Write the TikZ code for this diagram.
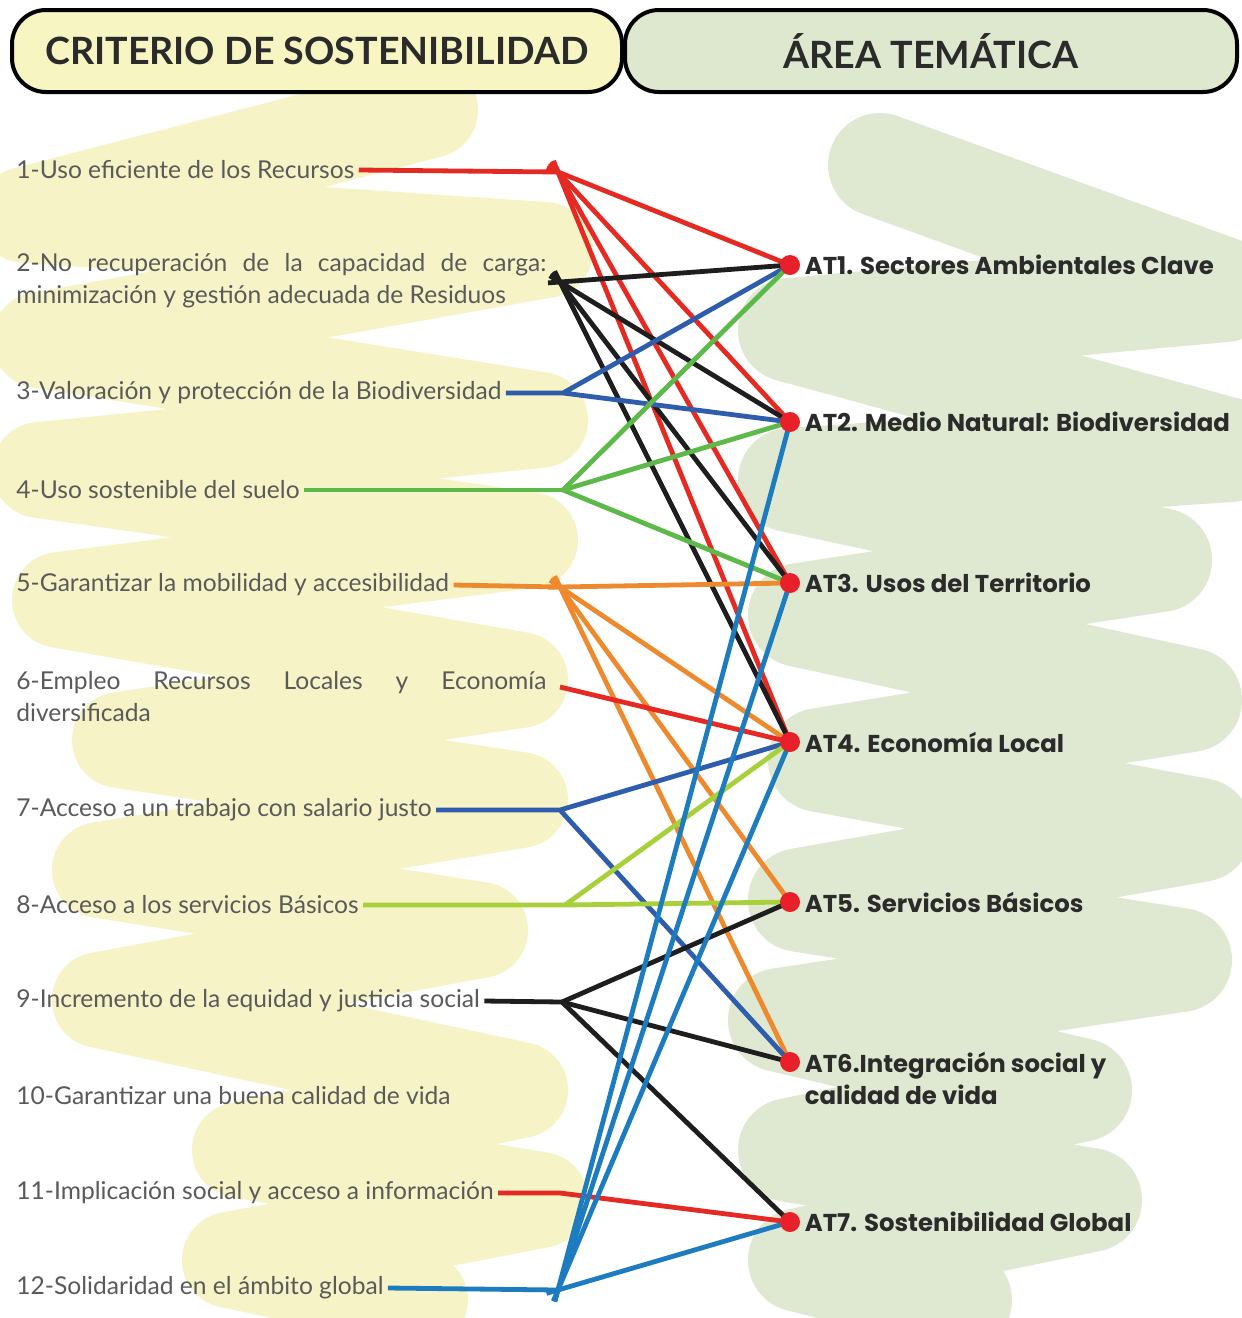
\documentclass[tikz,border=0pt]{standalone}
\usepackage{fontspec}
\setmainfont{Lato}
\newfontfamily\atfont{Poppins}
\usetikzlibrary{positioning}
\definecolor{lred}{HTML}{E42A22}
\definecolor{lblack}{HTML}{1E1E1E}
\definecolor{dblue}{HTML}{2E5DAE}
\definecolor{lblue}{HTML}{1C7CBF}
\definecolor{lgreen}{HTML}{5CB94A}
\definecolor{lorange}{HTML}{EE8A2E}
\definecolor{llime}{HTML}{A8D03A}
\definecolor{dotred}{HTML}{E8202A}
\definecolor{bgyellow}{HTML}{F6F4C6}
\definecolor{bggreen}{HTML}{DFE9D1}
\definecolor{headyellow}{HTML}{F7F5C2}
\definecolor{headgreen}{HTML}{DEE8CF}
\definecolor{critgray}{HTML}{5A5A5A}
\definecolor{atgray}{HTML}{2B2B2B}
\hyphenpenalty=10000

\begin{document}
\begin{tikzpicture}[x=0.5pt,y=-0.5pt,
	crit/.style={anchor=west,inner sep=2pt,text=critgray,font=\fontsize{12.3}{16}\selectfont},
	theme/.style={inner sep=1pt,text=atgray,font=\atfont\bfseries\fontsize{12.2}{16}\selectfont},
	themedot/.style={circle,fill=dotred,inner sep=0pt,minimum size=10pt},
	headbox/.style={draw=black,line width=2pt,rounded corners=17pt,minimum height=41pt,text=atgray,font=\bfseries\fontsize{18.8}{20}\selectfont},
	link/.style={line width=2.4pt},
	tail/.style={shorten <=-6pt},
	scribble/.style={line width=48pt,line cap=round,line join=round}]
	\useasboundingbox (0,0) rectangle (1242,1318);
	\fill[white] (0,0) rectangle (1242,1318);

	\draw[scribble,bgyellow] (430,110) -- (25,215) -- (545,250) -- (40,340) -- (540,420) -- (40,470) -- (530,540) -- (60,600) -- (520,680) -- (120,740) -- (520,800) -- (100,870) -- (480,930) -- (100,1000) -- (520,1090) -- (240,1150) -- (540,1200) -- (230,1260) -- (420,1300);
	\draw[scribble,bggreen,line width=52pt] (880,165) -- (1225,290) -- (790,330) -- (1230,450) -- (790,480) -- (1160,560) -- (800,615) -- (1190,700) -- (820,760) -- (1200,830) -- (800,900) -- (1180,960) -- (780,1020) -- (1080,1090) -- (790,1150) -- (1090,1200) -- (800,1260) -- (960,1300);

	\node[headbox,fill=headyellow,minimum width=305pt] (hcrit) at (317,51) {CRITERIO DE SOSTENIBILIDAD};
	\node[headbox,fill=headgreen,minimum width=306pt] (harea) at (931,51) {ÁREA TEMÁTICA};

	\node[crit] (c1) at (12,170) {1-Uso eficiente de los Recursos};
	\node[crit,text width=265pt,align=justify] (c2) at (12,281) {2-No recuperación de la capacidad de carga:\linebreak minimización y gestión adecuada de Residuos};
	\node[crit] (c3) at (12,393) {3-Valoración y protección de la Biodiversidad};
	\node[crit] (c4) at (12,490) {4-Uso sostenible del suelo};
	\node[crit] (c5) at (12,585) {5-Garantizar la mobilidad y accesibilidad};
	\node[crit,text width=265pt,align=justify] (c6) at (12,697) {6-Empleo Recursos Locales y Economía\linebreak diversificada};
	\node[crit] (c7) at (12,810) {7-Acceso a un trabajo con salario justo};
	\node[crit] (c8) at (12,905) {8-Acceso a los servicios Básicos};
	\node[crit] (c9) at (12,1001) {9-Incremento de la equidad y justicia social};
	\node[crit] (c10) at (12,1096) {10-Garantizar una buena calidad de vida};
	\node[crit] (c11) at (12,1193) {11-Implicación social y acceso a información};
	\node[crit] (c12) at (12,1288) {12-Solidaridad en el ámbito global};

	\coordinate (b1) at (558,172);
	\coordinate (b2) at (560,282);
	\coordinate (b3) at (563,393);
	\coordinate (b4) at (563,490);
	\coordinate (b5) at (560,587);
	\coordinate (b6) at (560,687);
	\coordinate (b7) at (560,810);
	\coordinate (b8) at (565,905);
	\coordinate (b9) at (562,1002);
	\coordinate (b11) at (560,1193);
	\coordinate (b12) at (558,1290);
	\foreach \i/\y in {1/265,2/422,3/583,4/742,5/902,6/1062,7/1222}
		\coordinate (at\i) at (790,\y);

	\draw[link,lred] (c1.east) -- (b1);
	\foreach \t in {1,...,4}
		\draw[link,lred,tail] (b1) -- (at\t);
	\foreach \t in {1,...,4}
		\draw[link,lblack,tail] (b2) -- (at\t);
	\draw[link,dblue] (c3.east) -- (b3) -- (at1) (b3) -- (at2);
	\draw[link,lgreen] (c4.east) -- (b4);
	\foreach \t in {1,2,3}
		\draw[link,lgreen] (b4) -- (at\t);
	\draw[link,lorange] (c5.east) -- (b5);
	\foreach \t in {3,...,6}
		\draw[link,lorange,tail] (b5) -- (at\t);
	\draw[link,lred] (b6) -- (at4);
	\draw[link,dblue] (c7.east) -- (b7) -- (at4) (b7) -- (at6);
	\draw[link,llime] (c8.east) -- (b8) -- (at4) (b8) -- (at5);
	\draw[link,lblack] (c9.east) -- (b9);
	\foreach \t in {5,6,7}
		\draw[link,lblack] (b9) -- (at\t);
	\draw[link,lred] (c11.east) -- (b11) -- (at7);
	\draw[link,lblue] (c12.east) -- (b12);
	\foreach \t in {2,3,4,7}
		\draw[link,lblue,tail] (b12) -- (at\t);

	\foreach \i in {1,...,7}
		\node[themedot] (d\i) at (at\i) {};
	\node[theme,right=1pt of d1] (t1) {AT1. Sectores Ambientales Clave};
	\node[theme,right=1pt of d2] (t2) {AT2. Medio Natural: Biodiversidad};
	\node[theme,right=1pt of d3] (t3) {AT3. Usos del Territorio};
	\node[theme,right=1pt of d4] (t4) {AT4. Economía Local};
	\node[theme,right=1pt of d5] (t5) {AT5. Servicios Básicos};
	\node[theme,right=1pt of d6,yshift=-8pt,align=left] (t6) {AT6.Integración social y\\calidad de vida};
	\node[theme,right=1pt of d7] (t7) {AT7. Sostenibilidad Global};
\end{tikzpicture}
\end{document}
